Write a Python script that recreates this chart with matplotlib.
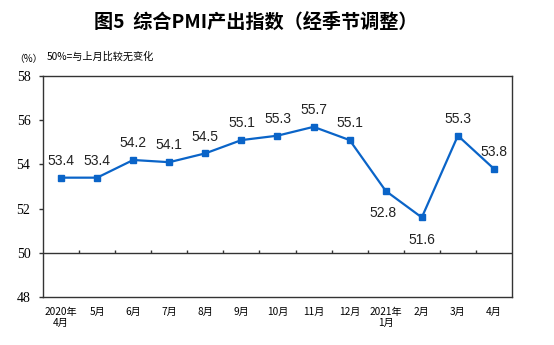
import matplotlib.pyplot as plt

plt.rcParams['font.family'] = ['Liberation Sans', 'Noto Sans CJK SC']

# 数据
months = ['2020年\n4月', '5月', '6月', '7月', '8月', '9月', '10月', '11月', '12月',
          '2021年\n1月', '2月', '3月', '4月']
values = [53.4, 53.4, 54.2, 54.1, 54.5, 55.1, 55.3, 55.7, 55.1, 52.8, 51.6, 55.3, 53.8]
below = [9, 10]  # Beschriftung unterhalb des Punktes
yticks = [48, 50, 52, 54, 56, 58]

blue = '#0a64c8'
dark = '#333333'

fig = plt.figure(figsize=(5.54, 3.45), dpi=100)
ax = fig.add_axes([0.0776, 0.1391, 0.9242 - 0.0776, 0.7797 - 0.1391])

x = list(range(len(values)))
ax.plot(x, values, color=blue, lw=1.6, marker='s', ms=4, zorder=3)

for i, v in enumerate(values):
    if i in below:
        ax.annotate(f'{v}', (i, v), xytext=(-2 if i == 9 else 0, -11), textcoords='offset points',
                    ha='center', va='top', fontsize=10, color='#222222')
    else:
        ax.annotate(f'{v}', (i, v), xytext=(0, 7), textcoords='offset points',
                    ha='center', va='bottom', fontsize=10, color='#222222')

# 50-Linie mit Trennstrichen
ax.axhline(50, color=dark, lw=1)
ax.vlines([i + 0.5 for i in range(len(values) - 1)], 50, 50.14, color=dark, lw=1)

ax.set_xlim(-0.5, len(values) - 0.5)
ax.set_ylim(48, 58)
ax.set_yticks(yticks)
ax.set_yticklabels([str(t) for t in yticks], family=['Liberation Serif'], fontsize=10)
ax.set_xticks(x)
ax.set_xticklabels(months, family=['Noto Sans CJK SC'], fontsize=7.3, linespacing=1.2)
ax.tick_params(axis='x', length=0, pad=7)
ax.tick_params(axis='y', length=3, width=1, color=dark, pad=6)

for s in ax.spines.values():
    s.set_color(dark)
    s.set_linewidth(1)

fig.text(256 / 554, 1 - 22 / 345, '图5  综合PMI产出指数（经季节调整）', ha='center', va='center',
         fontsize=13.8, fontweight='bold', family=['Noto Sans CJK SC'])
fig.text(14 / 554, 1 - 59 / 345, '（%）', ha='left', va='center', fontsize=7,
         family=['Noto Sans CJK SC'])
fig.text(47 / 554, 1 - 57 / 345, '50%=与上月比较无变化', ha='left', va='center', fontsize=7.3,
         family=['Noto Sans CJK SC'])

fig.savefig('out.png', dpi=100)
